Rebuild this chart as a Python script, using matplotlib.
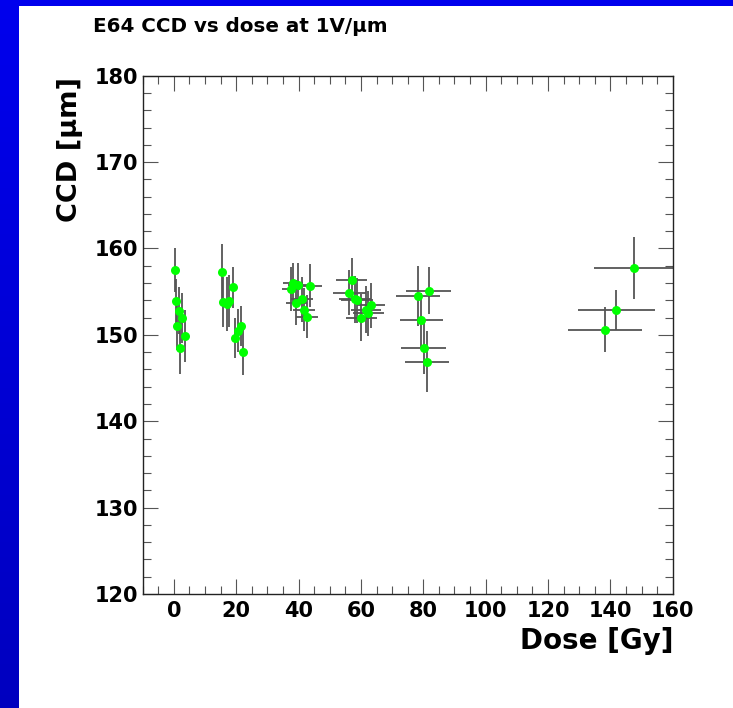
import numpy as np
import matplotlib
matplotlib.use("Agg")
import matplotlib.pyplot as plt
from matplotlib.ticker import MultipleLocator

# Dose [Gy] and CCD [um] with their errors
dose = [0.3, 0.6, 1.6, 2.6, 1.0, 3.7, 2.1,
        15.3, 19.0, 15.9, 17.8, 16.9, 21.4, 20.6, 19.6, 22.3,
        38.3, 37.6, 39.9, 43.6, 41.0, 39.3, 41.7, 42.7,
        57.1, 56.2, 58.1, 58.8, 63.1, 61.6, 62.4, 60.1,
        81.7, 78.3, 79.4, 80.2, 81.2,
        147.7, 141.9, 138.3]
dose_err = [0.3, 0.3, 0.3, 0.3, 0.3, 0.3, 0.3,
            0.8, 0.8, 0.8, 0.8, 0.8, 0.8, 0.8, 0.8, 0.8,
            3.2, 3.0, 3.3, 3.9, 3.5, 3.4, 3.6, 3.6,
            5.0, 5.3, 5.2, 5.2, 4.5, 4.8, 4.9, 5.0,
            7.3, 7.0, 7.0, 7.2, 7.2,
            12.9, 12.3, 11.9]
ccd = [157.5, 153.9, 152.8, 151.9, 151.0, 149.9, 148.5,
       157.3, 155.5, 153.8, 153.9, 153.6, 151.0, 150.5, 149.6, 148.0,
       156.0, 155.3, 155.8, 155.7, 154.1, 153.7, 152.9, 152.1,
       156.4, 154.9, 154.1, 154.0, 153.4, 152.9, 152.5, 152.0,
       155.1, 154.5, 151.7, 148.5, 146.9,
       157.7, 152.9, 150.6]
ccd_err = [2.5, 2.6, 2.7, 2.9, 2.8, 3.0, 3.0,
           3.2, 2.4, 2.9, 3.0, 3.1, 2.3, 2.5, 2.3, 2.6,
           2.3, 2.5, 2.5, 2.5, 2.6, 2.6, 2.5, 2.5,
           2.5, 2.6, 2.7, 2.6, 2.6, 2.7, 2.6, 2.7,
           2.7, 3.5, 3.2, 3.0, 3.5,
           3.6, 2.3, 2.6]

W, H = 733, 708
fig = plt.figure( figsize=(W/100., H/100.), dpi=100 )

# Blue canvas border (left strip with a slight gradient, top strip)
ax_bl = fig.add_axes( [0, 0, 19./W, 1] )
grad = np.linspace( 0, 1, 256 ).reshape(-1, 1)
cols = np.zeros( (256, 1, 3) )
cols[:, 0, 2] = 0.93 - 0.18 * grad[:, 0]
ax_bl.imshow( cols, aspect='auto', origin='upper' )
ax_bl.axis( 'off' )
ax_bt = fig.add_axes( [0, 1 - 6./H, 1, 6./H] )
ax_bt.set_facecolor( (0, 0, 0.93) )
ax_bt.set_xticks( [] ); ax_bt.set_yticks( [] )
for s in ax_bt.spines.values():
    s.set_visible( False )

# Main frame
ax = fig.add_axes( [142.7/W, 114./H, 530./W, 518.3/H] )
ax.errorbar( dose, ccd, xerr=dose_err, yerr=ccd_err,
             fmt='o', color='#00ff00', markersize=6.5, markeredgewidth=0,
             ecolor='#555555', elinewidth=1.3, capsize=1.2, capthick=1.3 )

ax.set_xlim( -10, 160 )
ax.set_ylim( 120, 180 )
ax.xaxis.set_major_locator( MultipleLocator(20) )
ax.xaxis.set_minor_locator( MultipleLocator(5) )
ax.yaxis.set_major_locator( MultipleLocator(10) )
ax.yaxis.set_minor_locator( MultipleLocator(2) )
ax.tick_params( which='both', direction='in', top=True, right=True,
                color='#555555', width=0.8 )
ax.tick_params( which='major', length=10.8 )
ax.tick_params( which='minor', length=5.8 )
ax.tick_params( axis='x', pad=5 )
ax.tick_params( axis='y', pad=3.4 )
for lab in ax.get_xticklabels() + ax.get_yticklabels():
    lab.set_fontsize( 15 )
    lab.set_fontweight( 'bold' )
for s in ax.spines.values():
    s.set_linewidth( 1.0 )
    s.set_color( '#222222' )

# Titles, ROOT style
fig.text( 93./W, 1 - 32./H, u"E64 CCD vs dose at 1V/\u03bcm",
          fontsize=14.3, fontweight='bold', ha='left', va='baseline' )
fig.text( 673./W, 1 - 627./H, "Dose [Gy]",
          fontsize=20, fontweight='bold', ha='right', va='top' )
fig.text( 57./W, 1 - 77./H, u"CCD [\u03bcm]", rotation=90,
          fontsize=19.5, fontweight='bold', ha='left', va='top' )

plt.savefig( "out.png", dpi=100 )
